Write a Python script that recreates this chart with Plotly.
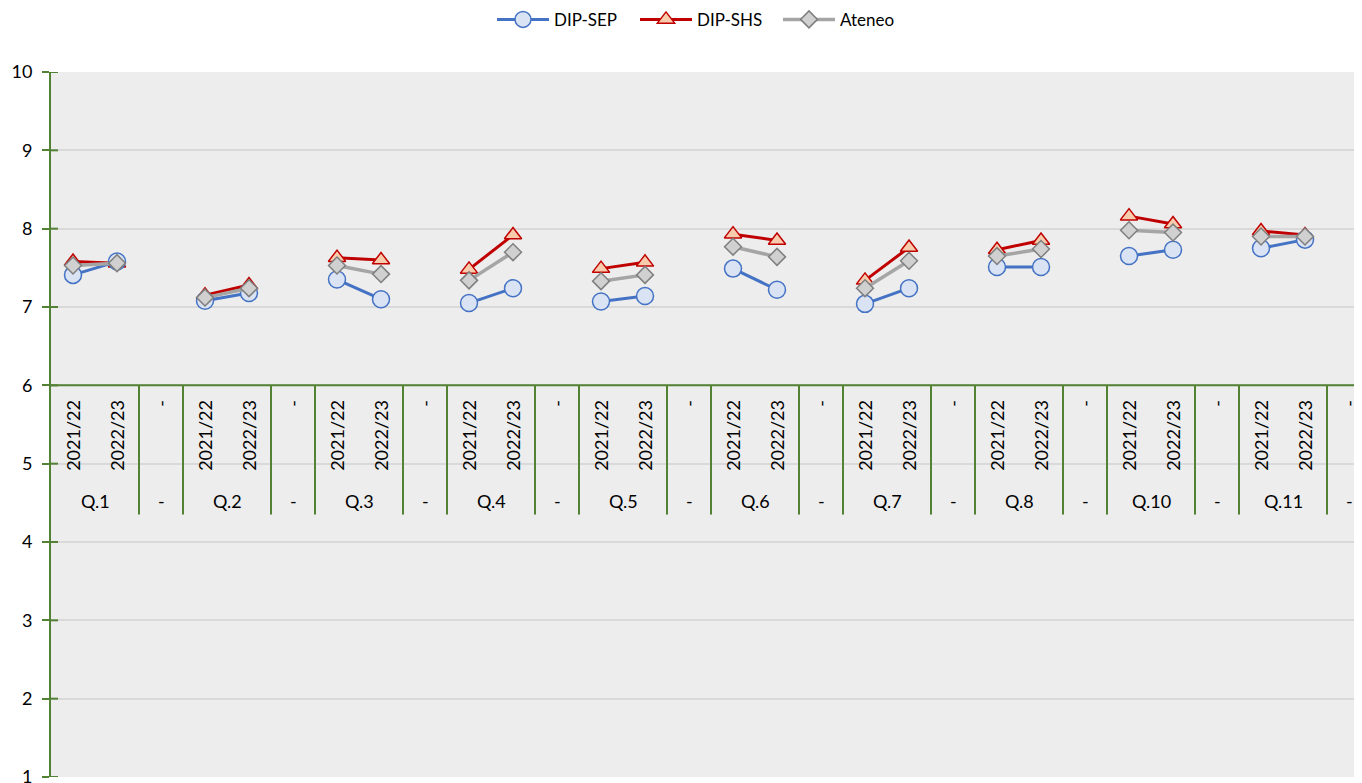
import plotly.graph_objects as go

# categorie
questions = ["Q.1", "Q.2", "Q.3", "Q.4", "Q.5", "Q.6", "Q.7", "Q.8", "Q.10", "Q.11"]
years = ["2021/22", "2022/23"]
sep_label = "-"

# valori (2021/22, 2022/23 per ogni domanda)
dip_sep = [7.41, 7.58, 7.08, 7.18, 7.35, 7.10, 7.05, 7.24, 7.07, 7.14,
           7.49, 7.22, 7.04, 7.24, 7.51, 7.51, 7.65, 7.73, 7.75, 7.86]
dip_shs = [7.58, 7.56, 7.15, 7.28, 7.63, 7.60, 7.48, 7.92, 7.49, 7.57,
           7.93, 7.85, 7.34, 7.76, 7.73, 7.85, 8.16, 8.06, 7.97, 7.92]
ateneo = [7.53, 7.56, 7.12, 7.24, 7.53, 7.42, 7.34, 7.70, 7.33, 7.41,
          7.77, 7.64, 7.24, 7.59, 7.65, 7.74, 7.98, 7.95, 7.90, 7.90]

FONT = "Lato"
GREEN = "#548235"
n_groups = len(questions)
slots = 3 * n_groups


def to_slots(vals):
    # ogni gruppo: 2021/22, 2022/23, separatore vuoto
    out = []
    for g in range(n_groups):
        out += [vals[2 * g], vals[2 * g + 1], None]
    return out


xs = list(range(slots))

series = [
    ("DIP-SHS", dip_shs, "#C00000", "#F8CBAD", "triangle-up", 15, 2),
    ("DIP-SEP", dip_sep, "#4472C4", "#DAE3F3", "circle", 17, 1),
    ("Ateneo", ateneo, "#A5A5A5", "#D0D0D0", "diamond", 13, 3),
]
marker_line = {"DIP-SHS": "#C00000", "DIP-SEP": "#4472C4", "Ateneo": "#7F7F7F"}

fig = go.Figure()
for name, vals, col, fill, sym, size, rank in series:
    fig.add_trace(go.Scatter(
        x=xs, y=to_slots(vals), name=name, mode="lines+markers",
        connectgaps=False, legendrank=rank,
        line=dict(color=col, width=3.5 if name == "Ateneo" else 3),
        marker=dict(symbol=sym, size=size, color=fill,
                    line=dict(color=marker_line[name], width=1.5)),
    ))

shapes = []
annotations = []
# asse categorie che incrocia a y=6
shapes.append(dict(type="line", xref="paper", yref="y", x0=0, x1=1, y0=6, y1=6,
                   line=dict(color=GREEN, width=2)))
y_bottom = 4.35
lab_font = dict(family=FONT, size=18, color="#000")
for g in range(n_groups):
    for xb in (3 * g - 0.5, 3 * g + 1.5):
        if xb > -0.5:
            shapes.append(dict(type="line", xref="x", yref="y", x0=xb, x1=xb,
                               y0=6, y1=y_bottom, line=dict(color=GREEN, width=2)))
    # etichette anno ruotate
    for j, yr in enumerate(years):
        annotations.append(dict(x=3 * g + j, y=6, xref="x", yref="y", text=yr,
                                textangle=-90, showarrow=False, yanchor="top",
                                yshift=-13, font=lab_font))
    annotations.append(dict(x=3 * g + 2, y=6, xref="x", yref="y", text=sep_label,
                            textangle=-90, showarrow=False, yanchor="top",
                            yshift=-13, font=lab_font))
    # etichette domanda
    annotations.append(dict(x=3 * g + 0.5, y=6, xref="x", yref="y", text=questions[g],
                            showarrow=False, yanchor="middle", yshift=-116,
                            font=lab_font))
    annotations.append(dict(x=3 * g + 2, y=6, xref="x", yref="y", text=sep_label,
                            showarrow=False, yanchor="middle", yshift=-116,
                            font=lab_font))

# parte interna dei tick (tick a croce)
for v in range(1, 11):
    shapes.append(dict(type="line", xref="paper", yref="y", x0=0, x1=7 / 1311,
                       y0=v, y1=v, line=dict(color=GREEN, width=2)))

# la pagina ha un margine di 8px: figura ridotta di conseguenza
fig.update_layout(
    width=1354, height=775,
    margin=dict(l=43, r=0, t=64, b=6, autoexpand=False),
    paper_bgcolor="white", plot_bgcolor="#EDEDED",
    showlegend=True,
    legend=dict(orientation="h", x=0.5, xanchor="center", y=1.074, yanchor="middle",
                font=dict(family=FONT, size=17, color="#000"), itemwidth=52,
                entrywidth=76),
    xaxis=dict(range=[-0.5, 29.295], showticklabels=False, showgrid=False,
               zeroline=False, ticks=""),
    yaxis=dict(range=[1, 10], dtick=1, showgrid=True, gridcolor="#D9D9D9", gridwidth=1.5,
               zeroline=False, showline=True, linecolor=GREEN, linewidth=2,
               ticks="outside", ticklen=7, tickwidth=2, tickcolor=GREEN,
               ticklabelstandoff=6, ticklabeloverflow="allow",
               tickfont=dict(family=FONT, size=18, color="#000")),
    shapes=shapes, annotations=annotations,
)

fig.write_html("out.html")
